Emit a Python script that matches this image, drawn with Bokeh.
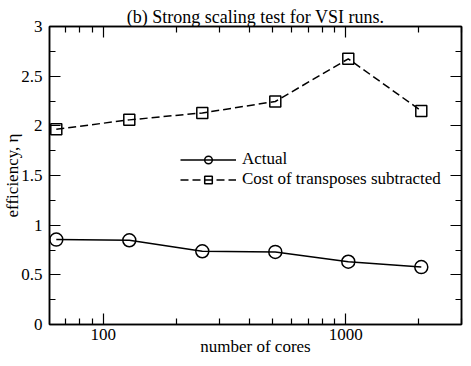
from bokeh.plotting import figure
from bokeh.models import (LogAxis, LinearAxis, FixedTicker, Range1d, Legend, LegendItem, Title,
                          PrintfTickFormatter)
from bokeh.embed import file_html
from bokeh.resources import INLINE

cores = [64, 128, 256, 512, 1024, 2048]
actual = [0.855, 0.848, 0.737, 0.731, 0.632, 0.578]
transposes_subtracted = [1.966, 2.06, 2.13, 2.245, 2.675, 2.15]

x_major = [100, 1000]
x_minor = [70, 80, 90, 200, 300, 400, 500, 600, 700, 800, 900, 2000, 3000]
y_major = [0, 0.5, 1, 1.5, 2, 2.5, 3]
y_minor = [0.25, 0.75, 1.25, 1.75, 2.25, 2.75]

FONT = "Liberation Serif"
FS = "17px"

p = figure(width=463, height=358, x_axis_type="log",
           x_range=Range1d(60, 3000), y_range=Range1d(0, 3),
           output_backend="svg", toolbar_location=None,
           min_border_left=49, min_border_right=2, min_border_top=26, min_border_bottom=31)
p.title = Title(text="(b) Strong scaling test for VSI runs.", align="center",
                text_font=FONT, text_font_size="18px", text_font_style="normal",
                text_color="black", offset=0, standoff=0)
p.grid.visible = False
p.outline_line_color = "black"
p.outline_line_width = 1.5
p.background_fill_color = "white"
p.border_fill_color = "white"

def style_axis(ax, labels=True):
    ax.axis_line_color = "black"
    ax.axis_line_width = 1.5
    ax.major_tick_in = 11
    ax.major_tick_out = 0
    ax.minor_tick_in = 6
    ax.minor_tick_out = 0
    ax.major_tick_line_color = "black"
    ax.minor_tick_line_color = "black"
    ax.major_tick_line_width = 1.2
    ax.minor_tick_line_width = 1.2
    ax.major_label_text_font = FONT
    ax.major_label_text_font_size = FS
    ax.major_label_text_color = "black"
    ax.axis_label_text_font = FONT
    ax.axis_label_text_font_size = FS
    ax.axis_label_text_font_style = "normal"
    ax.axis_label_text_color = "black"
    if not labels:
        ax.major_label_text_font_size = "0px"
        ax.major_label_text_alpha = 0
        ax.major_label_standoff = 0

p.xaxis.ticker = FixedTicker(ticks=x_major, minor_ticks=x_minor)
p.yaxis.ticker = FixedTicker(ticks=y_major, minor_ticks=y_minor)
p.xaxis.formatter = PrintfTickFormatter(format="%d")
style_axis(p.xaxis[0])
style_axis(p.yaxis[0])
p.xaxis.axis_label = "number of cores"
p.yaxis.axis_label = "efficiency, η"
p.xaxis.major_label_standoff = 4
p.yaxis.major_label_standoff = 7
p.xaxis.axis_label_standoff = -6
p.yaxis.axis_label_standoff = -4

top = LogAxis(ticker=FixedTicker(ticks=x_major, minor_ticks=x_minor))
style_axis(top, labels=False)
right = LinearAxis(ticker=FixedTicker(ticks=y_major, minor_ticks=y_minor))
style_axis(right, labels=False)
p.add_layout(top, "above")
p.add_layout(right, "right")

l1 = p.line(cores, actual, line_color="black", line_width=1.5)
s1 = p.scatter(cores, actual, marker="circle", size=13, fill_color=None,
               line_color="black", line_width=1.5)
l2 = p.line(cores, transposes_subtracted, line_color="black", line_width=1.5, line_dash="8 4")
s2 = p.scatter(cores, transposes_subtracted, marker="square", size=11, fill_color=None,
               line_color="black", line_width=1.5)

legend = Legend(items=[LegendItem(label="Actual", renderers=[l1, s1]),
                       LegendItem(label="Cost of transposes subtracted", renderers=[l2, s2])],
                location=(131, 135), border_line_color=None, background_fill_alpha=0,
                label_text_font=FONT, label_text_font_size=FS, label_text_color="black",
                glyph_width=56, glyph_height=19, spacing=0, padding=0, margin=0,
                label_standoff=6, label_height=19)
p.add_layout(legend, "center")

open("out.html", "w").write(file_html(p, INLINE))
